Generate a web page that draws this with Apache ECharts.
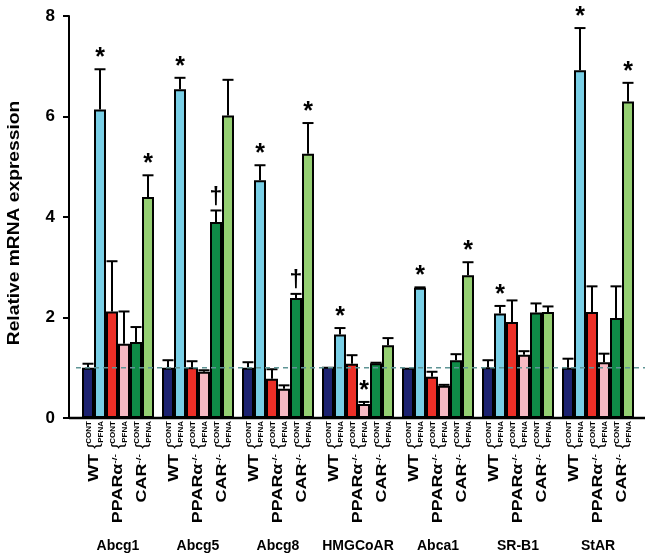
<!DOCTYPE html>
<html>
<head>
<meta charset="utf-8">
<script src="https://cdn.jsdelivr.net/npm/echarts@6/dist/echarts.min.js"></script>
<style>html,body{margin:0;padding:0;background:#fff;}#c{width:650px;height:557px;}</style>
</head>
<body>
<div id="c"></div>
<script>
// ---- data ----
const categories = ['Abcg1', 'Abcg5', 'Abcg8', 'HMGCoAR', 'Abca1', 'SR-B1', 'StAR'];
const seriesNames = ['WT CONT', 'WT PFNA', 'PPARα-/- CONT', 'PPARα-/- PFNA', 'CAR-/- CONT', 'CAR-/- PFNA'];
const wtCont     = [1.00, 1.00, 1.00, 1.02, 1.00, 1.01, 1.00];
const wtContErr  = [1.08, 1.15, 1.11, 1.02, 1.00, 1.15, 1.18];
const wtPfna     = [6.14, 6.54, 4.73, 1.66, 2.59, 2.08, 6.92];
const wtPfnaErr  = [6.94, 6.77, 5.03, 1.79, 2.60, 2.23, 7.76];
const ppCont     = [2.12, 1.01, 0.78, 1.08, 0.82, 1.91, 2.11];
const ppContErr  = [3.12, 1.13, 0.97, 1.25, 0.92, 2.34, 2.62];
const ppPfna     = [1.48, 0.92, 0.58, 0.28, 0.64, 1.26, 1.11];
const ppPfnaErr  = [2.12, 0.95, 0.65, 0.32, 0.66, 1.33, 1.28];
const carCont    = [1.51, 3.90, 2.39, 1.09, 1.15, 2.10, 1.99];
const carContErr = [1.81, 4.13, 2.47, 1.10, 1.27, 2.28, 2.62];
const carPfna    = [4.40, 6.02, 5.26, 1.45, 2.84, 2.11, 6.30];
const carPfnaErr = [4.83, 6.73, 5.87, 1.59, 3.10, 2.22, 6.67];
const wtContMark   = ['', '', '', '', '', '', ''];
const wtPfnaMark   = ['*', '*', '*', '*', '*', '*', '*'];
const ppContMark   = ['', '', '', '', '', '', ''];
const ppPfnaMark   = ['', '', '', '*', '', '', ''];
const carContMark  = ['', '†', '†', '', '', '', ''];
const carPfnaMark  = ['*', '', '*', '', '*', '', '*'];
const yTicks = [0, 2, 4, 6, 8];
const yTitle = 'Relative mRNA expression';
const subLabels = ['CONT', 'PFNA'];
const genotypes = ['WT', 'PPARα', 'CAR'];
const genotypeSup = ['', '-/-', '-/-'];
const refLevel = 1;

// ---- style ----
const colors = ['#1d2270', '#79cfe6', '#ec2f27', '#f6b9c3', '#0f8b47', '#95cf72'];
const FONT = "'Liberation Sans', Arial, sans-serif";
const BAR_W = 12;

const values = [wtCont, wtPfna, ppCont, ppPfna, carCont, carPfna];
const errs = [wtContErr, wtPfnaErr, ppContErr, ppPfnaErr, carContErr, carPfnaErr];
const marks = [wtContMark, wtPfnaMark, ppContMark, ppPfnaMark, carContMark, carPfnaMark];

const errData = [];
const errMarks = [];
for (let s = 0; s < 6; s++) {
  for (let c = 0; c < categories.length; c++) {
    errData.push([c, errs[s][c], values[s][c], s]);
    errMarks.push(marks[s][c]);
  }
}

const barSeries = values.map((v, i) => ({
  name: seriesNames[i],
  type: 'bar',
  data: v,
  barWidth: BAR_W,
  barGap: '0%',
  itemStyle: { color: colors[i], borderColor: '#000', borderWidth: 2 },
  z: 2
}));

const errSeries = {
  type: 'custom',
  data: errData,
  encode: { x: 0, y: 1 },
  z: 3,
  renderItem: function (params, api) {
    const cat = api.value(0), top = api.value(1), val = api.value(2), s = api.value(3);
    const off = (s - 2.5) * BAR_W;
    const p0 = api.coord([cat, val]);
    const p1 = api.coord([cat, Math.max(top, val)]);
    const x = p0[0] + off;
    const children = [];
    if (top > val + 0.005) {
      children.push({ type: 'line', shape: { x1: x, y1: p0[1], x2: x, y2: p1[1] }, style: { stroke: '#000', lineWidth: 2 } });
      children.push({ type: 'line', shape: { x1: x - 5.5, y1: p1[1], x2: x + 5.5, y2: p1[1] }, style: { stroke: '#000', lineWidth: 2 } });
    }
    const m = errMarks[params.dataIndex];
    if (m === '*') {
      children.push({ type: 'text', x: x, y: p1[1] - 11, style: { text: '*', font: 'bold 25px ' + FONT, fill: '#000', align: 'center', verticalAlign: 'middle' } });
    } else if (m === '†') {
      children.push({ type: 'text', x: x, y: p1[1] - 13, style: { text: '†', font: 'bold 23px ' + FONT, fill: '#000', align: 'center', verticalAlign: 'middle' } });
    }
    return { type: 'group', children: children };
  }
};

const labelSeries = {
  type: 'custom',
  data: categories.map((c, i) => [i, 0]),
  encode: { x: 0, y: 1 },
  z: 4,
  clip: false,
  silent: true,
  renderItem: function (params, api) {
    const p = api.coord([api.value(0), 0]);
    const cx = p[0], by = p[1];
    const children = [];
    for (let g = 0; g < 3; g++) {
      for (let k = 0; k < 2; k++) {
        const bx = cx + (g * 2 + k - 2.5) * BAR_W;
        children.push({ type: 'text', x: bx + 0.5, y: by + 3, rotation: Math.PI / 2,
          style: { text: subLabels[k], font: 'bold 8px ' + FONT, fill: '#000', align: 'right', verticalAlign: 'middle' } });
      }
      const gx = cx + (g * 2 - 2) * BAR_W;
      children.push({ type: 'text', x: gx + 0.5, y: by + 28, rotation: Math.PI / 2,
        style: { text: '{', font: '17px ' + FONT, fill: '#000', align: 'center', verticalAlign: 'middle' } });
      const txt = genotypeSup[g] ? '{m|' + genotypes[g] + '}{s|' + genotypeSup[g] + '}' : '{m|' + genotypes[g] + '}';
      children.push({ type: 'text', x: gx, y: by + 36, rotation: Math.PI / 2, scaleX: 1.28,
        style: { text: txt, fill: '#000', align: 'right', verticalAlign: 'middle',
          rich: { m: { font: 'bold 14px ' + FONT, fill: '#000' }, s: { font: 'bold 8px ' + FONT, fill: '#000', verticalAlign: 'top', padding: [0, 0, 6, 0] } } } });
    }
    return { type: 'group', children: children };
  }
};

const chart = echarts.init(document.getElementById('c'), null, { renderer: 'canvas' });
chart.setOption({
  animation: false,
  backgroundColor: '#fff',
  grid: { left: 78, right: 12, top: 16, bottom: 139 },
  xAxis: {
    type: 'category',
    data: categories,
    axisLine: { show: false },
    axisTick: { show: false },
    axisLabel: { interval: 0, margin: 121, color: '#000', fontFamily: FONT, fontWeight: 'bold', fontSize: 14 }
  },
  yAxis: {
    type: 'value',
    min: yTicks[0], max: yTicks[yTicks.length - 1], interval: 2,
    offset: 9,
    axisLine: { show: true, lineStyle: { color: '#000', width: 2 } },
    axisTick: { show: true, length: 6, lineStyle: { color: '#000', width: 2 } },
    axisLabel: { margin: 14, color: '#000', fontFamily: FONT, fontWeight: 'bold', fontSize: 17 },
    splitLine: { show: false }
  },
  series: barSeries.concat([errSeries, labelSeries])
});

const y0 = chart.convertToPixel({ yAxisIndex: 0 }, 0);
const y1 = chart.convertToPixel({ yAxisIndex: 0 }, refLevel);
const yMid = (chart.convertToPixel({ yAxisIndex: 0 }, yTicks[0]) + chart.convertToPixel({ yAxisIndex: 0 }, yTicks[yTicks.length - 1])) / 2;
chart.setOption({
  graphic: [
    { type: 'line', z: 10, shape: { x1: 69, y1: y0, x2: 645, y2: y0 }, style: { stroke: '#000', lineWidth: 2.5 } },
    { type: 'line', z: 10, shape: { x1: 76, y1: y1, x2: 645, y2: y1 }, style: { stroke: '#5f9596', lineWidth: 1.5, lineDash: [5, 4] } },
    { type: 'text', z: 10, x: 15, y: yMid + 6, rotation: Math.PI / 2, scaleX: 1.2,
      style: { text: yTitle, font: 'bold 16px ' + FONT, fill: '#000', align: 'center', verticalAlign: 'middle' } }
  ]
});
</script>
</body>
</html>
